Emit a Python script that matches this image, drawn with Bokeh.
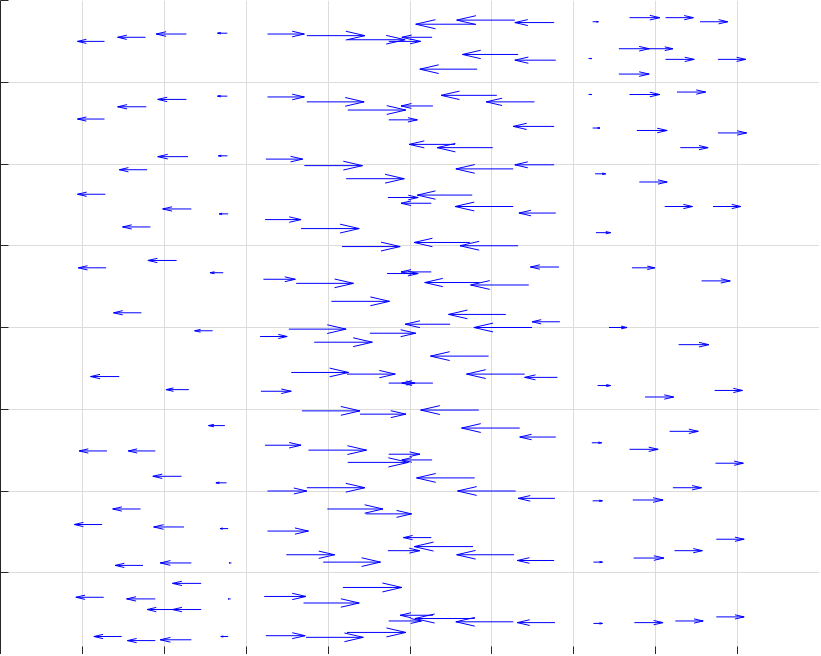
import numpy as np
from bokeh.plotting import figure
from bokeh.models import ColumnDataSource, FixedTicker, Range1d
from bokeh.embed import file_html
from bokeh.resources import INLINE

# ---- data (tail x, tail y, horizontal component u; v = 0) ----
x_tail = [
    1.27, 1.77, 2.27, 2.77, 2.27, 1.78, 1.27, 2.77, 2.29, 2.77, 1.79, 1.28, 2.33, 2.78, 1.83,
    2.15, 1.29, 2.72, 1.72, 2.59, 1.45, 2.30, 2.74, 1.30, 1.89, 2.21, 2.76, 1.71, 1.24, 2.24,
    2.78, 1.74, 2.33, 2.82, 2.45, 1.26, 1.89, 2.81, 2.13, 2.45, 1.48, 1.89, 2.33, 2.78,
    3.26, 3.74, 4.24, 4.74, 3.26, 3.74, 4.24, 4.74, 3.24, 3.71, 4.22, 4.73, 3.23, 3.67, 4.17,
    3.21, 3.61, 4.72, 4.04, 3.17, 3.52, 4.51, 3.83, 3.55, 4.23, 4.74, 3.18, 3.68, 4.39, 3.23,
    3.76, 4.74, 4.24, 3.26, 3.74, 3.99, 4.46, 3.26, 4.73, 3.49, 3.94, 4.18, 3.22, 3.70, 4.74,
    3.24, 3.73, 4.23,
    5.80, 6.28, 6.76, 6.32, 6.78, 5.82, 5.27, 5.28, 6.06, 6.52, 6.76, 5.55, 6.01, 6.26, 6.76,
    5.76, 5.26, 6.26, 6.78, 5.73, 6.32, 6.82, 5.26, 5.85, 6.45, 6.17, 6.83, 5.49, 6.49, 5.96,
    5.28, 6.40, 6.80, 5.84, 6.34, 6.78, 5.27, 5.79, 6.29, 6.77, 5.26, 5.77, 6.27, 6.76, 5.28,
    5.79, 6.26, 6.77,
    7.23, 7.68, 8.12, 8.54, 7.55, 7.91, 7.18, 8.12, 8.76, 7.55, 7.18, 7.68, 8.26, 7.23, 7.77,
    8.76, 8.30, 7.26, 7.80, 8.11, 8.70, 7.27, 7.71, 8.56, 7.43, 8.28, 7.29, 7.87, 8.72, 8.17,
    7.22, 7.68, 8.73, 8.21, 7.23, 7.72, 8.74, 8.23, 7.73, 7.24, 7.24, 7.74, 8.24, 8.74,
]
y_tail = [
    7.50, 7.55, 7.59, 7.60, 6.79, 6.70, 6.55, 6.83, 6.09, 6.10, 5.93, 5.63, 5.45, 5.39, 5.23,
    4.82, 4.73, 4.67, 4.18, 3.96, 3.40, 3.24, 2.80, 2.49, 2.49, 2.18, 2.10, 1.78, 1.59, 1.56,
    1.54, 1.09, 1.12, 1.12, 0.87, 0.70, 0.68, 0.68, 0.55, 0.55, 0.22, 0.17, 0.18, 0.22,
    7.59, 7.57, 7.52, 7.50, 6.82, 6.76, 6.66, 6.54, 6.06, 5.98, 5.82, 5.59, 5.32, 5.21, 4.99,
    4.59, 4.54, 4.66, 4.32, 3.89, 3.98, 3.93, 3.82, 3.45, 3.43, 3.32, 3.22, 2.98, 2.94, 2.56,
    2.50, 2.45, 2.35, 2.00, 2.04, 1.78, 1.72, 1.51, 1.27, 1.22, 1.13, 0.82, 0.71, 0.63, 0.41,
    0.23, 0.21, 0.27,
    7.71, 7.76, 7.73, 7.34, 7.27, 7.16, 7.55, 6.71, 6.84, 6.76, 6.46, 6.24, 6.20, 5.94, 5.99,
    5.62, 5.52, 5.48, 5.40, 5.04, 5.00, 4.74, 4.68, 4.55, 4.52, 4.16, 4.07, 4.04, 4.00, 3.65,
    3.32, 3.43, 3.39, 2.99, 2.77, 2.66, 2.38, 2.16, 2.00, 1.91, 1.43, 1.32, 1.22, 1.15, 0.48,
    0.44, 0.40, 0.39,
    7.74, 7.79, 7.79, 7.74, 7.41, 7.41, 7.29, 7.28, 7.28, 7.10, 6.85, 6.85, 6.88, 6.44, 6.41,
    6.38, 6.20, 5.88, 5.78, 5.48, 5.48, 5.16, 4.73, 4.57, 4.00, 3.79, 3.29, 3.15, 3.23, 2.73,
    2.59, 2.51, 2.34, 2.04, 1.88, 1.89, 1.41, 1.27, 1.18, 1.13, 0.38, 0.39, 0.41, 0.46,
]
u_comp = [
    -0.33, -0.34, -0.37, -0.12, -0.35, -0.35, -0.33, -0.12, -0.37, -0.11, -0.34, -0.34, -0.35, -0.11, -0.34,
    -0.35, -0.34, -0.16, -0.34, -0.22, -0.35, -0.28, -0.20, -0.34, -0.33, -0.35, -0.13, -0.34, -0.34, -0.37,
    -0.10, -0.34, -0.38, -0.03, -0.35, -0.34, -0.35, -0.03, -0.34, -0.35, -0.34, -0.34, -0.38, -0.09,
    0.45, 0.71, 0.70, 0.39, 0.45, 0.70, 0.71, 0.35, 0.45, 0.71, 0.71, 0.37, 0.44, 0.71, 0.71,
    0.39, 0.70, 0.38, 0.71, 0.33, 0.70, 0.56, 0.71, 0.70, 0.59, 0.32, 0.37, 0.71, 0.56, 0.44,
    0.71, 0.38, 0.74, 0.48, 0.71, 0.68, 0.56, 0.50, 0.39, 0.59, 0.70, 0.72, 0.51, 0.68, 0.40,
    0.48, 0.70, 0.72,
    -0.73, -0.71, -0.48, -0.68, -0.50, -0.70, -0.37, -0.39, -0.68, -0.59, -0.50, -0.56, -0.68, -0.70, -0.48,
    -0.67, -0.37, -0.71, -0.45, -0.68, -0.71, -0.35, -0.37, -0.67, -0.71, -0.70, -0.34, -0.55, -0.71, -0.71,
    -0.38, -0.71, -0.40, -0.71, -0.71, -0.44, -0.37, -0.71, -0.71, -0.45, -0.34, -0.72, -0.70, -0.45, -0.40,
    -0.73, -0.70, -0.46,
    0.07, 0.37, 0.34, 0.34, 0.37, 0.30, 0.04, 0.35, 0.34, 0.37, 0.04, 0.37, 0.35, 0.09, 0.37,
    0.35, 0.34, 0.13, 0.34, 0.34, 0.34, 0.18, 0.28, 0.35, 0.22, 0.37, 0.16, 0.35, 0.34, 0.35,
    0.12, 0.35, 0.34, 0.35, 0.12, 0.37, 0.34, 0.34, 0.37, 0.11, 0.11, 0.35, 0.34, 0.34,
]
v_comp = [0.0] * len(u_comp)

x_ticks = [0, 1, 2, 3, 4, 5, 6, 7, 8, 9, 10]
y_ticks = [0, 1, 2, 3, 4, 5, 6, 7, 8]

# ---- quiver geometry (MATLAB-style open arrow heads) ----
X = np.array(x_tail); Y = np.array(y_tail)
U = np.array(u_comp); V = np.array(v_comp)
head_len = 0.33
head_wid = 0.23
XE = X + U
YE = Y + V
w1x = XE - head_len * (U + head_wid * V)
w1y = YE - head_len * (V - head_wid * U)
w2x = XE - head_len * (U - head_wid * V)
w2y = YE - head_len * (V + head_wid * U)

src = ColumnDataSource(dict(x0=X, y0=Y, x1=XE, y1=YE,
                            w1x=w1x, w1y=w1y, w2x=w2x, w2y=w2y))

p = figure(frame_width=819, frame_height=654, output_backend="svg",
           toolbar_location=None, min_border=0,
           x_range=Range1d(0, 10), y_range=Range1d(0, 8))
p.outline_line_color = None
p.background_fill_color = "white"

for ax in (p.xaxis, p.yaxis):
    ax.major_tick_in = 8
    ax.major_tick_out = 0
    ax.minor_tick_in = 0
    ax.minor_tick_out = 0
    ax.major_label_standoff = 0
    ax.axis_line_color = "#262626"
    ax.major_tick_line_color = "#262626"
    ax.axis_line_width = 1
p.xaxis.ticker = FixedTicker(ticks=x_ticks)
p.yaxis.ticker = FixedTicker(ticks=y_ticks)
p.xaxis.major_label_overrides = {t: "" for t in x_ticks}
p.yaxis.major_label_overrides = {t: "" for t in y_ticks}
p.xgrid.ticker = FixedTicker(ticks=x_ticks)
p.ygrid.ticker = FixedTicker(ticks=y_ticks)
p.grid.grid_line_color = "#dcdcdc"
p.grid.grid_line_width = 1

p.segment("x0", "y0", "x1", "y1", source=src, line_color="#0000ff", line_width=1)
p.segment("w1x", "w1y", "x1", "y1", source=src, line_color="#0000ff", line_width=1)
p.segment("w2x", "w2y", "x1", "y1", source=src, line_color="#0000ff", line_width=1)

open("out.html", "w").write(file_html(p, INLINE))
